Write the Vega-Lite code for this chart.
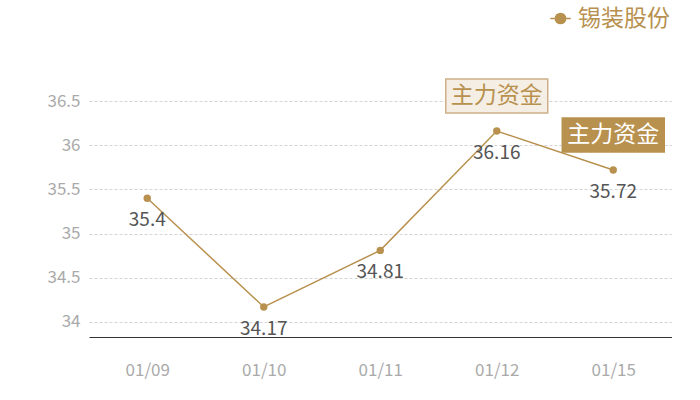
{
  "$schema": "https://vega.github.io/schema/vega-lite/v6.json",
  "autosize": {"type": "none"},
  "width": 582.5,
  "height": 236,
  "padding": {"left": 89, "top": 101, "right": 28.5, "bottom": 63},
  "background": "white",
  "config": {
    "font": "Noto Sans CJK SC",
    "view": {"stroke": null}
  },
  "data": {
    "values": [
      {"date": "01/09", "price": 35.4, "name": "锡装股份"},
      {"date": "01/10", "price": 34.17, "name": "锡装股份"},
      {"date": "01/11", "price": 34.81, "name": "锡装股份"},
      {"date": "01/12", "price": 36.16, "name": "锡装股份", "flag": "主力资金"},
      {"date": "01/15", "price": 35.72, "name": "锡装股份", "flag": "主力资金"}
    ]
  },
  "encoding": {
    "x": {
      "field": "date",
      "type": "ordinal",
      "scale": {"type": "point", "padding": 0.5},
      "axis": {
        "title": null,
        "labelAngle": 0,
        "labelColor": "#aaaaaa",
        "labelFontSize": 17,
        "labelPadding": 25,
        "ticks": false,
        "domainColor": "#333333",
        "domainWidth": 1,
        "grid": false
      }
    },
    "y": {
      "field": "price",
      "type": "quantitative",
      "scale": {"domain": [33.83, 36.5], "nice": false, "zero": false},
      "axis": {
        "title": null,
        "values": [34, 34.5, 35, 35.5, 36, 36.5],
        "format": "~g",
        "labelColor": "#aaaaaa",
        "labelFontSize": 17,
        "labelPadding": 9,
        "ticks": false,
        "domain": false,
        "gridColor": "#d4d4d4",
        "gridDash": [3, 2],
        "gridWidth": 1
      }
    }
  },
  "layer": [
    {
      "mark": {"type": "line", "strokeWidth": 1.5},
      "encoding": {
        "color": {
          "field": "name",
          "type": "nominal",
          "scale": {"range": ["#b8914f"]},
          "legend": {
            "title": null,
            "orient": "none",
            "legendX": 460,
            "legendY": -94,
            "symbolType": "M-1,0H1M0.5,0A0.5,0.5 0 1,1 -0.5,0A0.5,0.5 0 1,1 0.5,0",
            "symbolSize": 420,
            "symbolStrokeWidth": 1.5,
            "symbolFillColor": "#b8914f",
            "symbolStrokeColor": "#b8914f",
            "labelFontSize": 23,
            "labelColor": "#b8914f",
            "labelOffset": 6,
            "labelFont": "Noto Sans CJK SC"
          }
        }
      }
    },
    {
      "mark": {"type": "circle", "size": 55, "opacity": 1, "color": "#b8914f"}
    },
    {
      "mark": {"type": "text", "dy": 22, "fontSize": 19, "color": "#555555", "align": "center"},
      "encoding": {"text": {"field": "price", "type": "quantitative"}}
    },
    {
      "transform": [{"filter": "datum.flag != null"}],
      "mark": {
        "type": "point",
        "shape": "M-1,-0.333H1V0.333H-1Z",
        "size": 10404,
        "yOffset": -35,
        "filled": true,
        "strokeWidth": 1.5,
        "opacity": 1
      },
      "encoding": {
        "fill": {
          "condition": {"test": "datum.date == '01/12'", "value": "#f5eee4"},
          "value": "#b8914f"
        },
        "stroke": {
          "condition": {"test": "datum.date == '01/12'", "value": "#cdb089"},
          "value": "#b8914f"
        }
      }
    },
    {
      "transform": [{"filter": "datum.flag != null"}],
      "mark": {
        "type": "text",
        "yOffset": -35,
        "fontSize": 23,
        "align": "center",
        "baseline": "middle"
      },
      "encoding": {
        "text": {"field": "flag"},
        "color": {
          "condition": {"test": "datum.date == '01/12'", "value": "#b8914f"},
          "value": "#ffffff"
        }
      }
    }
  ]
}
